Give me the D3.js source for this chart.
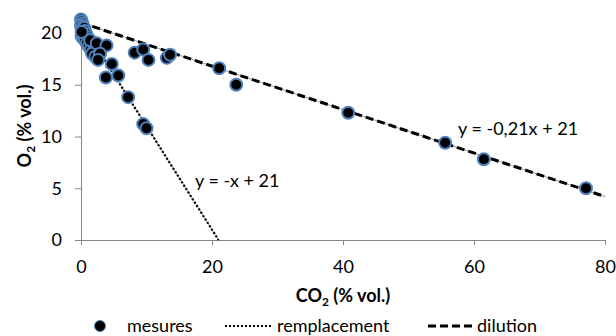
<!DOCTYPE html>
<html>
<head>
<meta charset="utf-8">
<script src="https://cdn.jsdelivr.net/npm/d3@7"></script>
<style>
  body { margin: 0; background: #fff; }
  text { font-family: Lato, "Noto Sans", sans-serif; fill: #000; }
</style>
</head>
<body>
<div id="chart"></div>
<script>
// measured points (CO2 %, O2 %)
const co2 = [0.0, 0.1, 0.2, 0.0, 0.3, 0.1, 0.5, 0.2, 0.6, 0.4, 0.8, 0.1, 0.3, 1.0, 0.6, 1.2, 0.9, 1.5, 1.2, 1.8, 1.5, 2.0, 1.7, 2.2,
  0.1, 1.4, 2.4, 3.9, 2.9, 2.6, 4.7, 3.8, 5.7, 7.2, 9.5, 10.0, 8.2, 9.5, 10.3, 13.1, 13.6, 21.1, 23.7, 40.8, 55.6, 61.5, 77.1];
const o2 = [21.3, 21.1, 20.9, 20.7, 20.6, 20.4, 20.5, 20.1, 20.2, 19.9, 19.9, 19.7, 19.5, 19.6, 19.3, 19.3, 19.0, 19.1, 18.7, 18.8, 18.4, 18.3, 18.0, 17.7,
  20.1, 19.3, 19.0, 18.8, 18.0, 17.4, 17.0, 15.7, 15.9, 13.8, 11.2, 10.8, 18.1, 18.4, 17.4, 17.6, 17.9, 16.6, 15.0, 12.3, 9.4, 7.8, 5.0];

const xTicks = [0, 20, 40, 60, 80];
const yTicks = [0, 5, 10, 15, 20];

// trend lines
const remplacement = {slope: -1, intercept: 21, x0: 0, x1: 21, label: "y = -x + 21"};
const dilution = {slope: -0.21, intercept: 21, x0: 0, x1: 80, label: "y = -0,21x + 21"};

const legendNames = ["mesures", "remplacement", "dilution"];

const width = 616, height = 336;
const fs = "18px";
const svg = d3.select("#chart").append("svg")
  .attr("width", width)
  .attr("height", height);

const x = d3.scaleLinear().domain([0, 80]).range([81, 605]);
const y = d3.scaleLinear().domain([0, 20]).range([240, 33]);

const axisColor = "#868686";

// axes
const gx = svg.append("g")
  .attr("transform", "translate(0," + y(0) + ")")
  .call(d3.axisBottom(x).tickValues(xTicks).tickSize(5).tickPadding(15));
const gy = svg.append("g")
  .attr("transform", "translate(" + x(0) + ",0)")
  .call(d3.axisLeft(y).tickValues(yTicks).tickSize(6).tickPadding(13));
[gx, gy].forEach(function(g) {
  g.select(".domain").attr("stroke", axisColor);
  g.selectAll(".tick line").attr("stroke", axisColor);
  g.selectAll(".tick text").style("font-size", fs).style("font-family", "Lato, sans-serif");
});

// trendline drawing
function trend(t, dash, w) {
  const pts = [[t.x0, t.slope * t.x0 + t.intercept], [t.x1, t.slope * t.x1 + t.intercept]];
  const line = d3.line().x(function(d) { return x(d[0]); }).y(function(d) { return y(d[1]); });
  svg.append("path").datum(pts).attr("d", line)
    .attr("fill", "none").attr("stroke", "#999").attr("stroke-width", 1);
  svg.append("path").datum(pts).attr("d", line)
    .attr("fill", "none").attr("stroke", "#000").attr("stroke-width", w)
    .attr("stroke-dasharray", dash);
}
trend(remplacement, "2,2", 2.2);
trend(dilution, "8,4", 3);

// points
const data = co2.map(function(v, i) { return {k: v, v: o2[i]}; });
svg.append("g").selectAll("circle")
  .data(data)
  .join("circle")
  .attr("cx", function(d) { return x(d.k); })
  .attr("cy", function(d) { return y(d.v); })
  .attr("r", 6)
  .attr("fill", "#000")
  .attr("stroke", "#4f81bd")
  .attr("stroke-width", 2);

// equations
svg.append("text").attr("x", 195).attr("y", 187).style("font-size", fs).text(remplacement.label);
svg.append("text").attr("x", 458).attr("y", 135).style("font-size", fs).text(dilution.label);

// axis titles
const xt = svg.append("text").attr("x", 343).attr("y", 302).attr("text-anchor", "middle")
  .style("font-size", fs).style("font-weight", "bold");
xt.append("tspan").text("CO");
xt.append("tspan").attr("dy", 4).style("font-size", "12px").text("2");
xt.append("tspan").attr("dy", -4).text(" (% vol.)");

const yt = svg.append("text").attr("transform", "translate(31,126) rotate(-90)").attr("text-anchor", "middle")
  .style("font-size", fs).style("font-weight", "bold");
yt.append("tspan").text("O");
yt.append("tspan").attr("dy", 4).style("font-size", "12px").text("2");
yt.append("tspan").attr("dy", -4).text(" (% vol.)");

// legend
const ly = 326;
const leg = svg.append("g");
leg.append("circle").attr("cx", 100).attr("cy", ly).attr("r", 5.5)
  .attr("fill", "#000").attr("stroke", "#4f81bd").attr("stroke-width", 1);
leg.append("text").attr("x", 127).attr("y", ly + 6).style("font-size", fs).text(legendNames[0]);
leg.append("line").attr("x1", 225).attr("x2", 271).attr("y1", ly).attr("y2", ly)
  .attr("stroke", "#000").attr("stroke-width", 2).attr("stroke-dasharray", "2,2");
leg.append("text").attr("x", 277).attr("y", ly + 6).style("font-size", fs).text(legendNames[1]);
leg.append("line").attr("x1", 428).attr("x2", 475).attr("y1", ly).attr("y2", ly)
  .attr("stroke", "#000").attr("stroke-width", 3).attr("stroke-dasharray", "8,4");
leg.append("text").attr("x", 477).attr("y", ly + 6).style("font-size", fs).text(legendNames[2]);
</script>
</body>
</html>
